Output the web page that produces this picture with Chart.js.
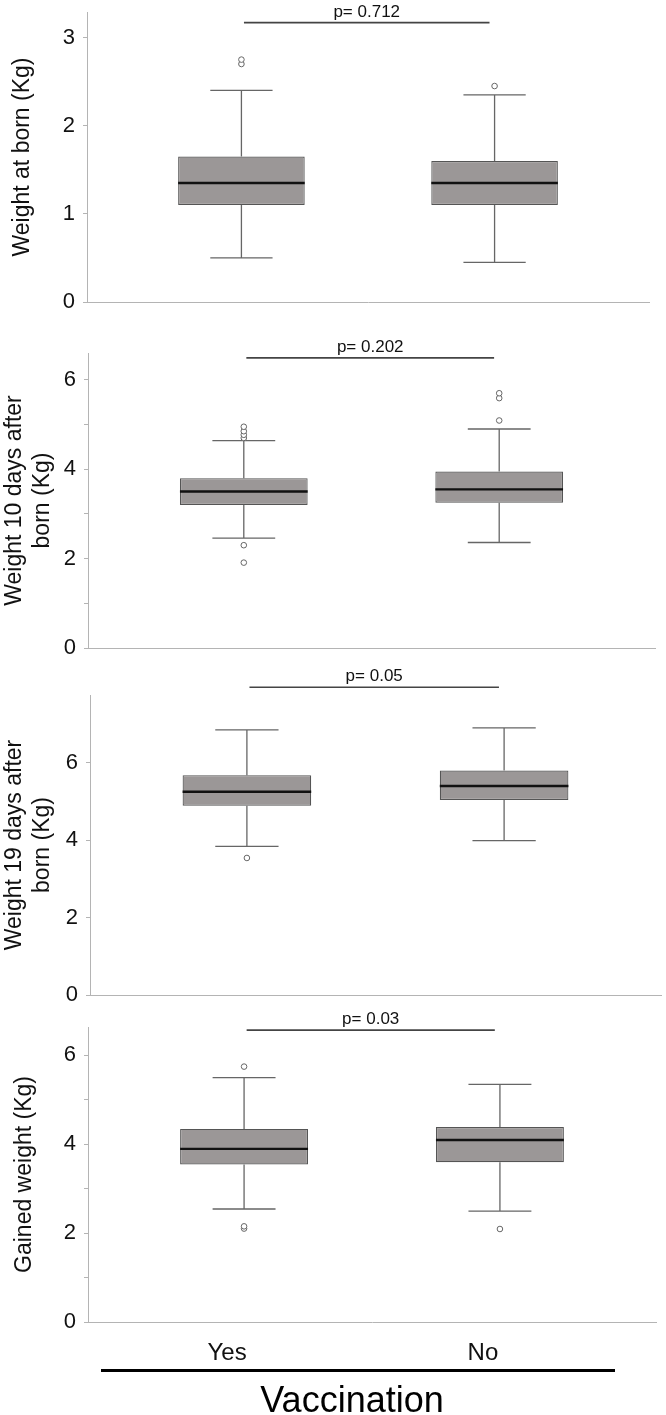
<!DOCTYPE html>
<html>
<head>
<meta charset="utf-8">
<script src="https://cdn.jsdelivr.net/npm/chart.js"></script>
<style>
  body { margin: 0; background: #fff; }
  #wrap { position: relative; width: 666px; height: 1415px; background: #fff; }
  #wrap canvas { position: absolute; left: 0; }
  #rule { position: absolute; left: 101px; top: 1369px; width: 514px; height: 3px; background: #000; }
  #xtitle { position: absolute; left: 95px; top: 1382px; width: 514px; text-align: center;
    font: 36px "Liberation Sans", Arial, sans-serif; line-height: 36px; color: #000; }
</style>
</head>
<body>
<div id="wrap">
  <canvas id="c0" width="666" height="330" style="top:0px"></canvas>
  <canvas id="c1" width="666" height="330" style="top:330px"></canvas>
  <canvas id="c2" width="666" height="345" style="top:660px"></canvas>
  <canvas id="c3" width="666" height="410" style="top:1005px"></canvas>
  <div id="rule"></div>
  <div id="xtitle">Vaccination</div>
</div>
<script>
const groups = ["Yes", "No"];
const measures = [
  "Weight at born (Kg)",
  ["Weight 10 days after", "born (Kg)"],
  ["Weight 19 days after", "born (Kg)"],
  "Gained weight (Kg)"
];
const pValues = ["p= 0.712", "p= 0.202", "p= 0.05", "p= 0.03"];

// [Yes, No] per measure
const whiskerLow = [[0.5, 0.45], [2.46, 2.36], [3.84, 3.99], [2.54, 2.49]];
const q1 = [[1.1, 1.1], [3.2, 3.25], [4.89, 5.04], [3.54, 3.59]];
const median = [[1.35, 1.35], [3.5, 3.55], [5.25, 5.4], [3.89, 4.09]];
const q3 = [[1.65, 1.6], [3.8, 3.95], [5.68, 5.8], [4.34, 4.38]];
const whiskerHigh = [[2.4, 2.35], [4.64, 4.9], [6.85, 6.9], [5.49, 5.34]];
const outliers = [
  [[2.7, 2.75], [2.45]],
  [[4.7, 4.77, 4.85, 4.95, 2.3, 1.91], [5.09, 5.59, 5.7]],
  [[3.54], []],
  [[5.74, 2.1, 2.15], [2.09]]
];

// axis setup per panel
const yMax = [3.29, 6.6, 7.75, 6.63];
const yStep = [1, 1, 2, 1];
const yLabelStep = [1, 2, 2, 2];

const layout = [
  { pad: { top: 12, bottom: 28, left: 0, right: 17 }, yWidth: 87, xHeight: 0, titlePad: 8, pY: 3.17 },
  { pad: { top: 23, bottom: 12, left: 0, right: 11 }, yWidth: 88, xHeight: 0, titlePad: 0, pY: 6.49 },
  { pad: { top: 35, bottom: 10, left: 0, right: 2 }, yWidth: 90, xHeight: 0, titlePad: 0, pY: 7.95 },
  { pad: { top: 22, bottom: 43, left: 0, right: 10 }, yWidth: 88, xHeight: 50, titlePad: 10, pY: 6.56 }
];

const FONT = '"Liberation Sans", Arial, sans-serif';
const AXIS = "#b4b4b4";
const HALF = 0.25, CAP = 0.123;

const pBracket = {
  id: "pBracket",
  afterDraw(chart, args, opts) {
    const ctx = chart.ctx;
    const x = chart.scales.x, y = chart.scales.y;
    const x0 = x.getPixelForValue(opts.from), x1 = x.getPixelForValue(opts.to);
    const py = y.getPixelForValue(opts.y);
    ctx.save();
    ctx.strokeStyle = "#444";
    ctx.lineWidth = 1.6;
    ctx.beginPath();
    ctx.moveTo(x0, py);
    ctx.lineTo(x1, py);
    ctx.stroke();
    ctx.fillStyle = "#111";
    ctx.font = "17px " + FONT;
    ctx.textAlign = "center";
    ctx.textBaseline = "alphabetic";
    ctx.fillText(opts.text, (x0 + x1) / 2, py - 6);
    ctx.restore();
  }
};

function makePanel(k) {
  const L = layout[k];
  const last = k === measures.length - 1;

  const boxes = groups.map((g, i) => ({ x: i, y: [q1[k][i], q3[k][i]] }));

  const whiskers = [];
  const medians = [];
  const points = [];
  groups.forEach((g, i) => {
    const lo = whiskerLow[k][i], hi = whiskerHigh[k][i];
    whiskers.push({ x: i, y: q3[k][i] }, { x: i, y: hi }, { x: i, y: null });
    whiskers.push({ x: i - CAP, y: hi }, { x: i + CAP, y: hi }, { x: i, y: null });
    whiskers.push({ x: i, y: q1[k][i] }, { x: i, y: lo }, { x: i, y: null });
    whiskers.push({ x: i - CAP, y: lo }, { x: i + CAP, y: lo }, { x: i, y: null });
    medians.push({ x: i - HALF, y: median[k][i] }, { x: i + HALF, y: median[k][i] }, { x: i, y: null });
    outliers[k][i].forEach(v => points.push({ x: i, y: v }));
  });

  new Chart(document.getElementById("c" + k), {
    type: "scatter",
    data: {
      datasets: [
        {
          type: "bar",
          data: boxes,
          backgroundColor: "#9b9797",
          borderColor: "#555",
          borderWidth: 1.2,
          borderSkipped: false,
          barPercentage: 0.5,
          categoryPercentage: 1,
          order: 3
        },
        {
          data: whiskers,
          showLine: true,
          spanGaps: false,
          borderColor: "#666",
          borderWidth: 1.3,
          pointRadius: 0,
          order: 2
        },
        {
          data: medians,
          showLine: true,
          spanGaps: false,
          borderColor: "#111",
          borderWidth: 2.4,
          pointRadius: 0,
          order: 1
        },
        {
          data: points,
          pointRadius: 2.8,
          pointBorderWidth: 1,
          pointBorderColor: "#666",
          pointBackgroundColor: "#fff",
          order: 0
        }
      ]
    },
    options: {
      responsive: false,
      animation: false,
      layout: { padding: L.pad },
      plugins: {
        legend: { display: false },
        tooltip: { enabled: false },
        pBracket: { text: pValues[k], y: L.pY, from: 0.01, to: 0.98 }
      },
      scales: {
        x: {
          type: "linear",
          offset: false,
          min: -0.61,
          max: 1.61,
          afterBuildTicks: s => { s.ticks = groups.map((g, i) => ({ value: i })); },
          afterFit: s => { s.height = L.xHeight; s.paddingLeft = 0; s.paddingRight = 0; },
          ticks: {
            display: last,
            autoSkip: false,
            maxRotation: 0,
            padding: 17,
            labelOffset: -17,
            color: "#111",
            font: { family: FONT, size: 24 },
            callback: (v, i) => groups[i]
          },
          grid: { display: false, drawTicks: false, offset: false },
          border: { color: AXIS, width: 1 }
        },
        y: {
          min: 0,
          max: yMax[k],
          afterFit: s => { s.width = L.yWidth; s.paddingTop = 0; s.paddingBottom = 0; },
          ticks: {
            stepSize: yStep[k],
            includeBounds: false,
            autoSkip: false,
            padding: 8,
            color: "#111",
            font: { family: FONT, size: 22 },
            callback: v => (v % yLabelStep[k] === 0 ? v : "")
          },
          grid: { drawOnChartArea: false, drawTicks: true, tickLength: 4, color: AXIS },
          border: { color: AXIS, width: 1 },
          title: {
            display: true,
            text: measures[k],
            color: "#111",
            font: { family: FONT, size: 23, lineHeight: 1.25 },
            padding: { top: L.titlePad, bottom: 0 }
          }
        }
      }
    },
    plugins: [pBracket]
  });
}

for (let k = 0; k < measures.length; k++) makePanel(k);
</script>
</body>
</html>
